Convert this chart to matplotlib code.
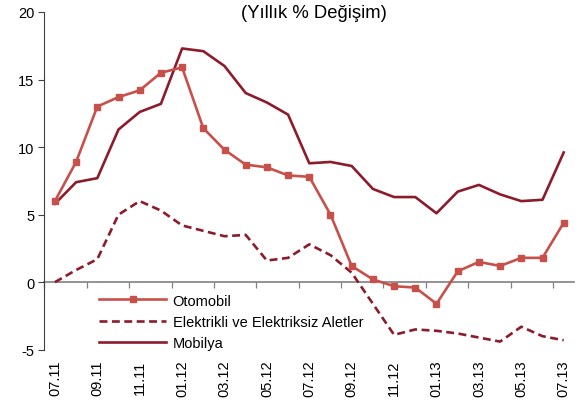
import matplotlib
matplotlib.use("Agg")
import matplotlib.pyplot as plt
import numpy as np

months = ["07.11", "08.11", "09.11", "10.11", "11.11", "12.11",
          "01.12", "02.12", "03.12", "04.12", "05.12", "06.12",
          "07.12", "08.12", "09.12", "10.12", "11.12", "12.12",
          "01.13", "02.13", "03.13", "04.13", "05.13", "06.13", "07.13"]

otomobil = [6.0, 8.9, 13.0, 13.7, 14.2, 15.5, 15.9, 11.4, 9.8, 8.7, 8.5, 7.9,
            7.8, 5.0, 1.2, 0.2, -0.3, -0.4, -1.6, 0.8, 1.5, 1.2, 1.8, 1.8, 4.4]
elektrikli = [0.0, 0.9, 1.7, 5.0, 6.0, 5.3, 4.2, 3.8, 3.4, 3.5, 1.6, 1.8,
              2.8, 2.0, 0.7, -1.6, -3.9, -3.5, -3.6, -3.8, -4.1, -4.4, -3.3, -4.0, -4.3]
mobilya = [5.8, 7.4, 7.7, 11.3, 12.6, 13.2, 17.3, 17.1, 16.0, 14.0, 13.3, 12.4,
           8.8, 8.9, 8.6, 6.9, 6.3, 6.3, 5.1, 6.7, 7.2, 6.5, 6.0, 6.1, 9.6]

series_labels = ["Otomobil", "Elektrikli ve Elektriksiz Aletler", "Mobilya"]
title = "(Yıllık % Değişim)"
yticks = [-5, 0, 5, 10, 15, 20]

plt.rcParams['font.family'] = ['Liberation Sans', 'DejaVu Sans']

W, H = 585, 406
fig = plt.figure(figsize=(W / 100, H / 100), dpi=100)
ax = fig.add_axes([44.3 / W, 1 - 350.7 / H, 530 / W, (350.7 - 13) / H])

x = np.arange(len(months))
c_oto = "#C8504B"
c_dark = "#8C1C2C"

ax.plot(x, otomobil, color=c_oto, lw=1.9, marker="s", markersize=4.2,
        label=series_labels[0], zorder=4)
ax.plot(x, elektrikli, color=c_dark, lw=1.9, linestyle=(0, (3.0, 1.7)),
        label=series_labels[1], zorder=3)
ax.plot(x, mobilya, color=c_dark, lw=1.9, label=series_labels[2], zorder=3)

ax.set_xlim(-0.5, len(months) - 0.5)
ax.set_ylim(-5, 20)

# y axis
ax.set_yticks(yticks)
ax.set_yticklabels([str(v) for v in yticks])
ax.tick_params(axis="y", direction="out", length=4, width=0.8, color="#404040",
               labelsize=10.5, pad=3, labelcolor="black")
for s in ["top", "right", "bottom"]:
    ax.spines[s].set_visible(False)
ax.spines["left"].set_color("#404040")
ax.spines["left"].set_linewidth(0.8)

# x labels at the bottom
ax.set_xticks(x[::2])
ax.set_xticklabels(months[::2], rotation=90, va="top", ha="center")
ax.tick_params(axis="x", length=0, labelsize=10.5, pad=7)

# zero axis line with ticks at category boundaries
sec = ax.secondary_xaxis(5 / 25)
sec.set_xticks(np.arange(-0.5, len(months), 2))
sec.set_xticklabels([])
sec.tick_params(axis="x", direction="out", length=4, width=0.9, color="#808080")
sec.spines["bottom"].set_color("#808080")
sec.spines["bottom"].set_linewidth(1.2)

leg = ax.legend(loc="upper left", bbox_to_anchor=((99 - 44.3) / 530, (350.7 - 294.5) / 337.7),
                frameon=False, fontsize=10.5, handlelength=4.6, handletextpad=0.45,
                labelspacing=0.5, borderpad=0, borderaxespad=0)

fig.text(ax.get_position().x0 + ax.get_position().width / 2 + 5 / W, 1 - 13 / H, title,
         ha="center", va="center", fontsize=13.3)

fig.savefig("out.png", dpi=100)
